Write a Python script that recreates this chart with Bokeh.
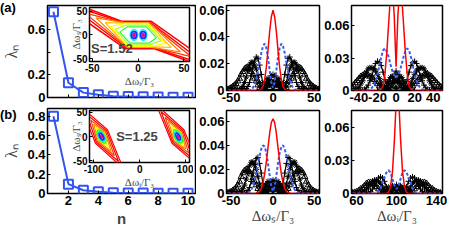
from bokeh.plotting import figure
from bokeh.models import GridBox, Label, FixedTicker, Range1d, Div
from bokeh.embed import file_html
from bokeh.resources import INLINE

# ---------------- data ----------------
N = [1, 2, 3, 4, 5, 6, 7, 8, 9, 10]
LAM_A = [0.755, 0.13, 0.043, 0.025, 0.012, 0.008, 0.006, 0.004, 0.003, 0.002]
LAM_B = [0.80, 0.097, 0.034, 0.018, 0.008, 0.005, 0.004, 0.003, 0.002, 0.002]

X_S = list(range(-54, 55, 2))     # Δω_s/Γ3 samples (middle panels)
X_IA = list(range(-48, 51, 2))    # Δω_i/Γ3 samples (top right)
X_IB = list(range(56, 145, 2))    # Δω_i/Γ3 samples (bottom right)

RED_SA = [0,0,0,0,0,0,0,0,0,0,0,0,0,0,0,0,0,0,0,
          0.0002,0.001,0.003,0.008,0.017,0.030,0.044,0.055,
          0.060,
          0.055,0.044,0.030,0.017,0.008,0.003,0.001,0.0002,
          0,0,0,0,0,0,0,0,0,0,0,0,0,0,0,0,0,0,0]
BLUE_SA = [0,0,0,0,0,0,0,0,0,0,0,0,0,
           0.0003,0.0008,0.002,0.004,0.008,0.014,0.021,0.028,0.033,0.035,0.032,0.025,0.015,0.006,
           0.002,
           0.006,0.015,0.025,0.032,0.035,0.033,0.028,0.021,0.014,0.008,0.004,0.002,0.0008,0.0003,
           0,0,0,0,0,0,0,0,0,0,0,0,0]
K3_SA = [0,0,0,0,0,0,0,0,0,
         0.0002,0.0006,0.0015,0.003,0.006,0.011,0.017,0.022,0.025,0.024,0.019,0.012,0.005,0.001,0.001,0.004,0.008,0.011,
         0.012,
         0.011,0.008,0.004,0.001,0.001,0.005,0.012,0.019,0.024,0.025,0.022,0.017,0.011,0.006,0.003,0.0015,0.0006,0.0002,
         0,0,0,0,0,0,0,0,0]
K4_SA = [0,0,0,0,0,0,
         0.0002,0.0006,0.0015,0.003,0.006,0.010,0.015,0.019,0.021,0.021,0.019,0.016,0.011,0.006,0.002,0.0005,0.002,0.006,0.009,0.008,0.004,
         0,
         0.004,0.008,0.009,0.006,0.002,0.0005,0.002,0.006,0.011,0.016,0.019,0.021,0.021,0.019,0.015,0.010,0.006,0.003,0.0015,0.0006,0.0002,
         0,0,0,0,0,0]
K5_SA = [0.0008,0.0013,0.002,0.003,0.004,0.005,0.007,0.009,0.012,0.014,0.016,0.017,0.017,0.016,0.014,0.012,0.009,0.007,0.004,0.002,0.0008,0.002,0.005,0.007,0.004,0.002,0.006,
         0.008,
         0.006,0.002,0.004,0.007,0.005,0.002,0.0008,0.002,0.004,0.007,0.009,0.012,0.014,0.016,0.017,0.017,0.016,0.014,0.012,0.009,0.007,0.005,0.004,0.003,0.002,0.0013,0.0008]

RED_SB = [0,0,0,0,0,0,0,0,0,0,0,0,0,0,0,0,0,
          0.0002,0.0006,0.0017,0.004,0.009,0.016,0.026,0.038,0.050,0.059,
          0.062,
          0.059,0.050,0.038,0.026,0.016,0.009,0.004,0.0017,0.0006,0.0002,
          0,0,0,0,0,0,0,0,0,0,0,0,0,0,0,0,0]
BLUE_SB = [0,0,0,0,0,0,0,0,0,0,0,
           0.0002,0.0006,0.0015,0.003,0.006,0.011,0.017,0.024,0.031,0.037,0.040,0.039,0.034,0.025,0.015,0.006,
           0.002,
           0.006,0.015,0.025,0.034,0.039,0.040,0.037,0.031,0.024,0.017,0.011,0.006,0.003,0.0015,0.0006,0.0002,
           0,0,0,0,0,0,0,0,0,0,0]
K3_SB = [0,0,0,0,0,0,0,0,0,0,
         0.0004,0.001,0.0025,0.005,0.010,0.017,0.024,0.029,0.030,0.025,0.017,0.008,0.002,0.0008,0.003,0.007,0.010,
         0.011,
         0.010,0.007,0.003,0.0008,0.002,0.008,0.017,0.025,0.030,0.029,0.024,0.017,0.010,0.005,0.0025,0.001,0.0004,
         0,0,0,0,0,0,0,0,0,0]
K4_SB = [0,0,0,0,0,0,
         0.0003,0.0008,0.002,0.004,0.007,0.012,0.018,0.023,0.026,0.026,0.024,0.020,0.014,0.008,0.003,0.001,0.003,0.007,0.010,0.009,0.005,
         0,
         0.005,0.009,0.010,0.007,0.003,0.001,0.003,0.008,0.014,0.020,0.024,0.026,0.026,0.023,0.018,0.012,0.007,0.004,0.002,0.0008,0.0003,
         0,0,0,0,0,0]
K5_SB = [0.0006,0.001,0.0015,0.0025,0.0035,0.005,0.007,0.010,0.014,0.017,0.019,0.020,0.020,0.018,0.016,0.013,0.010,0.007,0.004,0.002,0.001,0.003,0.006,0.007,0.004,0.003,0.007,
         0.009,
         0.007,0.003,0.004,0.007,0.006,0.003,0.001,0.002,0.004,0.007,0.010,0.013,0.016,0.018,0.020,0.020,0.019,0.017,0.014,0.010,0.007,0.005,0.0035,0.0025,0.0015,0.001,0.0006]

RED_IA = [0,0,0,0,0,0,0,0,0,0,0,0,0,0,0,0,
          0.001,0.004,0.015,0.035,0.062,0.088,0.094,0.07,
          0.022,
          0.07,0.094,0.088,0.062,0.035,0.015,0.004,0.001,
          0,0,0,0,0,0,0,0,0,0,0,0,0,0,0,0,0]
BLUE_IA = [0,0,0,0,0,0,0,0,0,
           0.0004,0.001,0.0025,0.005,0.009,0.015,0.023,0.031,0.037,0.039,0.036,0.031,0.024,0.018,0.014,
           0.012,
           0.014,0.018,0.024,0.031,0.036,0.039,0.037,0.031,0.023,0.015,0.009,0.005,0.0025,0.001,0.0004,
           0,0,0,0,0,0,0,0,0,0]
K3_IA = [0,0,0,0,0,0,
         0.0004,0.001,0.0025,0.005,0.009,0.014,0.020,0.025,0.027,0.026,0.023,0.017,0.010,0.004,0.001,0.003,0.009,0.015,
         0.018,
         0.015,0.009,0.003,0.001,0.004,0.010,0.017,0.023,0.026,0.027,0.025,0.020,0.014,0.009,0.005,0.0025,0.001,0.0004,
         0,0,0,0,0,0,0]
K4_IA = [0,0.0002,0.0006,0.0015,0.003,0.006,0.009,0.013,0.017,0.020,0.021,0.021,0.020,0.018,0.015,0.011,0.007,0.003,0.001,0.002,0.007,0.012,0.013,0.008,
         0.002,
         0.008,0.013,0.012,0.007,0.002,0.001,0.003,0.007,0.011,0.015,0.018,0.020,0.021,0.021,0.020,0.017,0.013,0.009,0.006,0.003,0.0015,0.0006,0.0002,0,0]
K5_IA = [0.0035,0.005,0.007,0.009,0.011,0.013,0.014,0.015,0.015,0.014,0.013,0.012,0.010,0.008,0.006,0.004,0.002,0.001,0.002,0.006,0.008,0.004,0.003,0.009,
         0.012,
         0.009,0.003,0.004,0.008,0.006,0.002,0.001,0.002,0.004,0.006,0.008,0.010,0.012,0.013,0.014,0.015,0.015,0.014,0.013,0.011,0.009,0.007,0.005,0.0035,0.002]

RED_IB = [0,0,0,0,0,0,0,0,0,0,0,0,0,0,0,0,0,0,
          0.001,0.006,0.02,0.05,0.09,0.09,0.05,0.02,0.006,0.001,
          0,0,0,0,0,0,0,0,0,0,0,0,0,0,0,0,0]
BLUE_IB = [0,0,0,0,0,0,0,0,0,0,0,0,
           0.0005,0.002,0.005,0.010,0.015,0.019,0.021,0.019,0.013,0.007,0.004,0.007,0.013,0.019,0.021,0.019,0.015,0.010,0.005,0.002,0.0005,
           0,0,0,0,0,0,0,0,0,0,0,0]
K3_IB = [0,0,0,0,0,0,0,
         0.0003,0.0008,0.002,0.004,0.007,0.011,0.014,0.015,0.014,0.011,0.006,0.002,0.001,0.003,0.006,
         0.008,
         0.006,0.003,0.001,0.002,0.006,0.011,0.014,0.015,0.014,0.011,0.007,0.004,0.002,0.0008,0.0003,
         0,0,0,0,0,0,0]
K4_IB = [0,0,0.0001,0.0002,0.0005,0.001,0.002,0.004,0.006,0.008,0.011,0.012,0.012,0.011,0.009,0.006,0.003,0.001,0.002,0.005,0.007,0.005,
         0.001,
         0.005,0.007,0.005,0.002,0.001,0.003,0.006,0.009,0.011,0.012,0.012,0.011,0.008,0.006,0.004,0.002,0.001,0.0005,0.0002,0.0001,0,0]
K5_IB = [0.0005,0.001,0.0015,0.0025,0.004,0.005,0.007,0.009,0.010,0.010,0.009,0.008,0.006,0.004,0.002,0.001,0.002,0.004,0.005,0.003,0.001,0.004,
         0.006,
         0.004,0.001,0.003,0.005,0.004,0.002,0.001,0.002,0.004,0.006,0.008,0.009,0.010,0.010,0.009,0.007,0.005,0.004,0.0025,0.0015,0.001,0.0005]

# joint-spectrum contour outlines (inset a), outer -> inner (hexagons: tip, top-left, top-right, tip, bottom-right, bottom-left)
CONT_A_X = [[-100,-18,14,100,18,-14], [-75,-17,13,75,17,-13], [-58,-16,12,58,16,-12],
            [-46,-15,12,46,15,-12], [-36,-15,11,36,15,-11], [-30,-14,11,30,14,-11],
            [-25,-13,10,25,13,-10], [-20,-12,9,20,12,-9]]
CONT_A_Y = [[88,29,29,-88,-29,-29], [64,27,27,-64,-27,-27], [46,26,26,-46,-26,-26],
            [36,26,26,-36,-26,-26], [26,25,25,-26,-25,-25], [18,24,24,-18,-24,-24],
            [12,21,21,-12,-21,-21], [6,17,17,-6,-17,-17]]
CONT_A_C = ["#ff0000", "#ff0000", "#ff3300", "#ff8000", "#ffbf00", "#ffff00", "#a8ff00", "#20ff40"]
CONT_A_W = [1.5, 1.4, 1.3, 1.2, 1.2, 1.2, 1.2, 1.2]
BLOB_A_X = [-4.5, 5.5]
BLOB_A_Y = [0, 0]

# joint-spectrum contour outlines (inset b), outer -> inner, left and right lobes
CONT_BL_X = [[-128,-70,-36,-96], [-115,-72,-46,-94], [-106,-74,-55,-92],
             [-100,-76,-62,-90], [-95,-77,-68,-89], [-92,-78,-72,-88]]
CONT_BL_Y = [[62,14,-66,-14], [46,12,-52,-12], [34,10,-40,-10],
             [26,8,-31,-8], [19,7,-23,-7], [14,6,-16,-6]]
CONT_BR_X = [[128,70,36,96], [115,72,46,94], [106,74,55,92],
             [100,76,62,90], [95,77,68,89], [92,78,72,88]]
CONT_BR_Y = [[-62,-14,66,14], [-46,-12,52,12], [-34,-10,40,10],
             [-26,-8,31,8], [-19,-7,23,7], [-14,-6,16,6]]
CONT_B_C = ["#ff0000", "#ff0000", "#ff4000", "#ff9000", "#ffff00", "#a0ff00"]
BLOB_B_X = [-83, 83]
BLOB_B_Y = [0, 0]

for name, xs, ys in [("SA", X_S, [RED_SA, BLUE_SA, K3_SA, K4_SA, K5_SA]),
                     ("SB", X_S, [RED_SB, BLUE_SB, K3_SB, K4_SB, K5_SB]),
                     ("IA", X_IA, [RED_IA, BLUE_IA, K3_IA, K4_IA, K5_IA]),
                     ("IB", X_IB, [RED_IB, BLUE_IB, K3_IB, K4_IB, K5_IB])]:
    for k, y in enumerate(ys):
        if len(y) != len(xs):
            raise SystemExit(f"length mismatch {name} {k}: {len(y)} vs {len(xs)}")

# ---------------- styling ----------------
SANS = "Liberation Sans"
SERIF = "Liberation Serif"
BLUE = "#3355ee"
BLUE2 = "#3a5cf5"
SX = 447 / 463
SY = 229 / 245


def bx(v):
    return int(round(v * SX))


def by(v):
    return int(round(v * SY))


def panel(outer, frame, xr, yr, xticks, yticks, xlab, ylab, tick_size="13px"):
    ox0, oy0, ox1, oy1 = outer
    fx0, fy0, fx1, fy1 = frame
    p = figure(width=bx(ox1) - bx(ox0), height=by(oy1) - by(oy0),
               x_range=Range1d(*xr), y_range=Range1d(*yr), title=None,
               output_backend="svg", toolbar_location=None,
               min_border_left=bx(fx0) - bx(ox0), min_border_right=bx(ox1) - bx(fx1),
               min_border_top=by(fy0) - by(oy0), min_border_bottom=by(oy1) - by(fy1))
    p.grid.visible = False
    p.outline_line_color = "black"
    p.outline_line_width = 1.5
    p.border_fill_color = None
    p.background_fill_color = "white"
    for ax in (p.xaxis[0], p.yaxis[0]):
        ax.axis_line_color = None
        ax.major_tick_in = 3
        ax.major_tick_out = 0
        ax.major_tick_line_color = "black"
        ax.minor_tick_line_color = None
        ax.major_label_text_font = SANS
        ax.major_label_text_font_style = "bold"
        ax.major_label_text_font_size = tick_size
        ax.major_label_text_color = "black"
        ax.major_label_standoff = 2
    p.xaxis.ticker = FixedTicker(ticks=xticks)
    p.yaxis.ticker = FixedTicker(ticks=yticks)
    p.xaxis.major_label_overrides = dict(zip(xticks, xlab))
    p.yaxis.major_label_overrides = dict(zip(yticks, ylab))
    return p, outer


def tag(text, outer):
    ox0, oy0, ox1, oy1 = outer
    d = Div(text=text, width=bx(ox1) - bx(ox0), height=by(oy1) - by(oy0),
            styles={"font-family": SANS, "font-weight": "bold", "font-size": "13px",
                    "line-height": "14px", "color": "black", "margin": "0", "padding": "0"})
    return d, outer


def axis_title(ax, text, size, standoff, font=SERIF, style="normal"):
    ax.axis_label = text
    ax.axis_label_text_font = font
    ax.axis_label_text_font_size = size
    ax.axis_label_text_font_style = style
    ax.axis_label_standoff = standoff


def marginal(p, xs, red, blue, k3, k4, k5):
    for ys, mk in ((k5, "triangle"), (k4, "asterisk"), (k3, "cross")):
        p.line(xs, ys, line_color="black", line_width=1.2)
        p.scatter(xs, ys, marker=mk, size=6, line_color="black", fill_color=None, line_width=1)
    p.line(xs, blue, line_color=BLUE2, line_width=2, line_dash="3 2")
    p.line(xs, red, line_color="#ff0000", line_width=1.5)


items = []

# (a) eigenvalues
pa, o = panel((0, 0, 203, 114), (43, 5, 202, 104), (0.6, 10.5), (0, 0.81),
              [2, 4, 6, 8, 10], [0, 0.2, 0.4, 0.6], ["", "", "", "", ""], ["0", "0.2", "", "0.6"])
axis_title(pa.yaxis[0], "λₙ", "16px", 4)
pa.line(N, LAM_A, line_color=BLUE, line_width=2)
pa.scatter(N, LAM_A, marker="square", size=9, line_color=BLUE, fill_color=None, line_width=2)
items.append((pa, o))

# (b) eigenvalues
pb, o = panel((0, 114, 203, 245), (43, 116, 202, 213), (0.6, 10.5), (0, 0.88),
              [2, 4, 6, 8, 10], [0, 0.2, 0.4, 0.6, 0.8], ["2", "4", "6", "8", "10"],
              ["0", "0.2", "0.4", "0.6", "0.8"])
axis_title(pb.yaxis[0], "λₙ", "16px", 4)
axis_title(pb.xaxis[0], "n", "15px", 2, font=SANS, style="bold")
pb.line(N, LAM_B, line_color=BLUE, line_width=2)
pb.scatter(N, LAM_B, marker="square", size=9, line_color=BLUE, fill_color=None, line_width=2)
items.append((pb, o))

# middle / right marginals
pm1, o = panel((203, 0, 333, 116), (231, 5, 330, 96), (-55.5, 55.5), (0, 0.0635),
               [-50, 0, 50], [0, 0.02, 0.04, 0.06], ["-50", "0", "50"], ["0", "0.02", "0.04", "0.06"])
marginal(pm1, X_S, RED_SA, BLUE_SA, K3_SA, K4_SA, K5_SA)
items.append((pm1, o))

pr1, o = panel((333, 0, 463, 116), (361, 5, 458, 96), (-48, 50), (0, 0.0786),
               [-40, -20, 0, 20, 40], [0, 0.03, 0.06], ["-40", "-20", "0", "20", "40"], ["0", "0.03", "0.06"])
marginal(pr1, X_IA, RED_IA, BLUE_IA, K3_IA, K4_IA, K5_IA)
items.append((pr1, o))

pm2, o = panel((203, 116, 333, 245), (231, 118, 330, 210), (-55.5, 55.5), (0, 0.069),
               [-50, 0, 50], [0, 0.02, 0.04, 0.06], ["-50", "0", "50"], ["0", "0.02", "0.04", "0.06"])
axis_title(pm2.xaxis[0], "Δωₛ/Γ₃", "15px", 0)
marginal(pm2, X_S, RED_SB, BLUE_SB, K3_SB, K4_SB, K5_SB)
items.append((pm2, o))

pr2, o = panel((333, 116, 463, 245), (361, 118, 458, 212), (55, 146), (0, 0.075),
               [60, 100, 140], [0, 0.03, 0.06], ["60", "100", "140"], ["0", "0.03", "0.06"])
axis_title(pr2.xaxis[0], "Δωᵢ/Γ₃", "15px", 0)
marginal(pr2, X_IB, RED_IB, BLUE_IB, K3_IB, K4_IB, K5_IB)
items.append((pr2, o))

# inset (a)
pia, o = panel((64, 5, 200, 97), (90, 8, 198, 65), (-53, 56), (-56, 58),
               [-50, 0, 50], [-50, 0, 50], ["-50", "0", "50"], ["-50", "0", "50"], tick_size="10px")
axis_title(pia.yaxis[0], "Δωₛ/Γ₃", "11px", -12)
axis_title(pia.xaxis[0], "Δωᵢ/Γ₃", "11px", 0)
pia.patches(CONT_A_X, CONT_A_Y, fill_color=None, line_color=CONT_A_C, line_width=CONT_A_W)
pia.ellipse(BLOB_A_X, BLOB_A_Y, width=8, height=22, fill_color=None, line_color="#00e8ff", line_width=1.5)
pia.ellipse(BLOB_A_X, BLOB_A_Y, width=5.5, height=14, fill_color=None, line_color="#1030ff", line_width=1.8)
pia.ellipse(BLOB_A_X, BLOB_A_Y, width=2.8, height=7, fill_color="#ff0070", line_color="#e00090", line_width=1)
pia.add_layout(Label(x=-28.6, y=-28, text="S=1.52", text_font=SANS, text_font_style="bold",
                     text_font_size="13px", text_align="center", text_baseline="middle"))
items.append((pia, o))

# inset (b)
pib, o = panel((64, 110, 200, 203), (92, 118, 196, 177), (-109, 108), (-54, 54),
               [-100, 0, 100], [-50, 0, 50], ["-100", "0", "100"], ["-50", "0", "50"], tick_size="10px")
axis_title(pib.yaxis[0], "Δωₛ/Γ₃", "11px", -12)
axis_title(pib.xaxis[0], "Δωᵢ/Γ₃", "11px", 0)
pib.patches(CONT_BL_X, CONT_BL_Y, fill_color=None, line_color=CONT_B_C, line_width=1.2)
pib.patches(CONT_BR_X, CONT_BR_Y, fill_color=None, line_color=CONT_B_C, line_width=1.2)
pib.ellipse(BLOB_B_X, BLOB_B_Y, width=14, height=30, angle=0.5, fill_color=None, line_color="#30ff30", line_width=1.5)
pib.ellipse(BLOB_B_X, BLOB_B_Y, width=10, height=22, angle=0.5, fill_color=None, line_color="#00e8ff", line_width=1.5)
pib.ellipse(BLOB_B_X, BLOB_B_Y, width=7, height=15, angle=0.5, fill_color=None, line_color="#1030ff", line_width=1.8)
pib.ellipse(BLOB_B_X, BLOB_B_Y, width=3.5, height=8, angle=0.5, fill_color="#ff0070", line_color="#e00090", line_width=1)
pib.add_layout(Label(x=-6, y=0, text="S=1.25", text_font=SANS, text_font_style="bold",
                     text_font_size="13px", text_align="center", text_baseline="middle"))
items.append((pib, o))

# panel tags
items.append(tag("(a)", (0, 1, 22, 18)))
items.append(tag("(b)", (0, 116, 22, 133)))

# ---------------- absolute placement through a CSS grid ----------------
xb = sorted({bx(o[0]) for _, o in items} | {bx(o[2]) for _, o in items})
yb = sorted({by(o[1]) for _, o in items} | {by(o[3]) for _, o in items})
cols = [f"{b - a}px" for a, b in zip(xb[:-1], xb[1:])]
rows = [f"{b - a}px" for a, b in zip(yb[:-1], yb[1:])]
children = []
for fig, o in items:
    r0 = yb.index(by(o[1])); r1 = yb.index(by(o[3]))
    c0 = xb.index(bx(o[0])); c1 = xb.index(bx(o[2]))
    children.append((fig, r0, c0, r1 - r0, c1 - c0))

grid = GridBox(children=children, rows=rows, cols=cols, spacing=0)
open("out.html", "w").write(file_html(grid, INLINE, title="chart"))
